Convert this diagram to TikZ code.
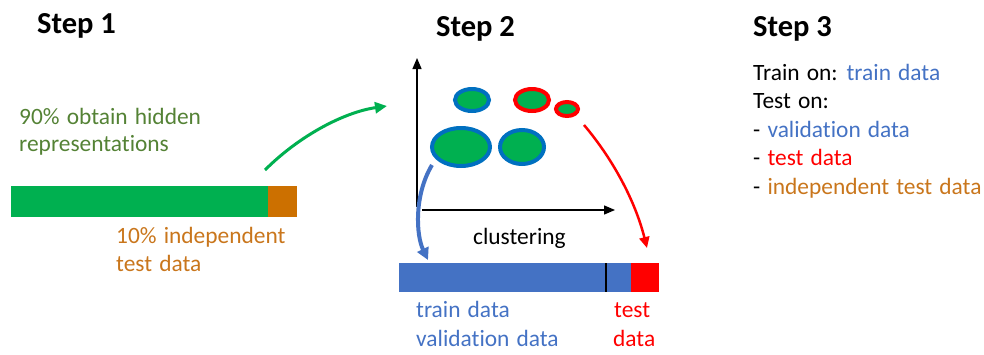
\documentclass[tikz,border=0pt]{standalone}
\usepackage{fontspec}
\setmainfont{Carlito}[RawFeature=-liga,WordSpace=1.35]
\newfontfamily\titlefont{Carlito}[RawFeature=-liga]
\usetikzlibrary{arrows.meta,shapes.geometric}
\definecolor{xgreen}{HTML}{00B050}
\definecolor{tgreen}{HTML}{548235}
\definecolor{xorange}{HTML}{CC7000}
\definecolor{torange}{HTML}{C9761C}
\definecolor{xblue}{HTML}{4472C4}
\definecolor{eblue}{HTML}{0070C0}
\definecolor{xred}{HTML}{FF0000}
\tikzset{
  title/.style={anchor=base west,inner sep=0pt,font=\titlefont\fontsize{30.5}{30}\selectfont\bfseries},
  body/.style={anchor=base west,inner sep=0pt,font=\fontsize{23.4}{27}\selectfont},
  blob/.style={ellipse,draw=eblue,fill=xgreen,line width=4pt,inner sep=0pt},
  rblob/.style={blob,draw=xred},
  axis/.style={line width=1.3pt,-{Triangle[length=11pt,width=9pt]}},
}
\begin{document}
\begin{tikzpicture}[x=1pt,y=-1pt]
\useasboundingbox (0,0) rectangle (984,354);
% titles
\node[title] (s1) at (37,33) {Step 1};
\node[title] (s2) at (436,36) {Step 2};
\node[title] (s3) at (753,36) {Step 3};
% step 1
\node[body,text=tgreen] (h1) at (19,124) {90\% obtain hidden};
\node[body,text=tgreen] (h2) at (19,151) {representations};
\fill[xgreen] (11,186) rectangle (268,217);
\fill[xorange] (268,186) rectangle (297,217);
\node[body,text=torange] (i1) at (116,243) {10\% independent};
\node[body,text=torange] (i2) at (116,271) {test data};
\coordinate (ga) at (265,170);
\coordinate (gb) at (387,106);
\draw[xgreen,line width=3pt,-{Triangle[length=12pt,width=11pt]}] (ga) .. controls (300,135) and (345,112) .. (gb);
% step 2 axes
\coordinate (o1) at (417,207);
\coordinate (yt) at (417,58);
\coordinate (o2) at (422,210);
\coordinate (xt) at (615,210);
\draw[axis] (o1) -- (yt);
\draw[axis] (o2) -- (xt);
% blobs
\node[blob,minimum width=34pt,minimum height=22pt] (c1) at (472,100) {};
\node[rblob,minimum width=34pt,minimum height=22pt] (c2) at (532,100) {};
\node[rblob,minimum width=22pt,minimum height=14pt] (c3) at (567,109) {};
\node[blob,minimum width=58pt,minimum height=38pt] (c4) at (461,147) {};
\node[blob,minimum width=44pt,minimum height=34pt] (c5) at (522,147) {};
\node[body] (cl) at (473,244) {clustering};
% arrows
\coordinate (ba) at (432,165);
\coordinate (bb) at (428,260);
\draw[xblue,line width=4pt,-{Triangle[length=12pt,width=12pt]}] (ba) .. controls (414,195) and (416,235) .. (bb);
\coordinate (ra) at (584,125);
\coordinate (rb) at (647,248);
\draw[xred,line width=2.5pt,-{Triangle[length=11pt,width=10pt]}] (ra) .. controls (612,158) and (635,200) .. (rb);
% bar
\fill[xblue] (399,263) rectangle (631,292);
\fill[xred] (631,263) rectangle (659,292);
\draw[line width=1.6pt] (606,263) -- (606,292);
\node[body,text=xblue] (t1) at (416,317) {train data};
\node[body,text=xblue] (t2) at (416,346) {validation data};
\node[body,text=xred] (d1) at (614,317) {test};
\node[body,text=xred] (d2) at (613,346) {data};
% step 3
\node[body] (l1) at (753,80) {Train on: \textcolor{xblue}{train data}};
\node[body] (l2) at (753,108.5) {Test on:};
\node[body] (l3) at (753,137) {- \textcolor{xblue}{validation data}};
\node[body] (l4) at (753,165.5) {- \textcolor{xred}{test data}};
\node[body] (l5) at (753,194) {- \textcolor{torange}{independent test data}};
\end{tikzpicture}
\end{document}
